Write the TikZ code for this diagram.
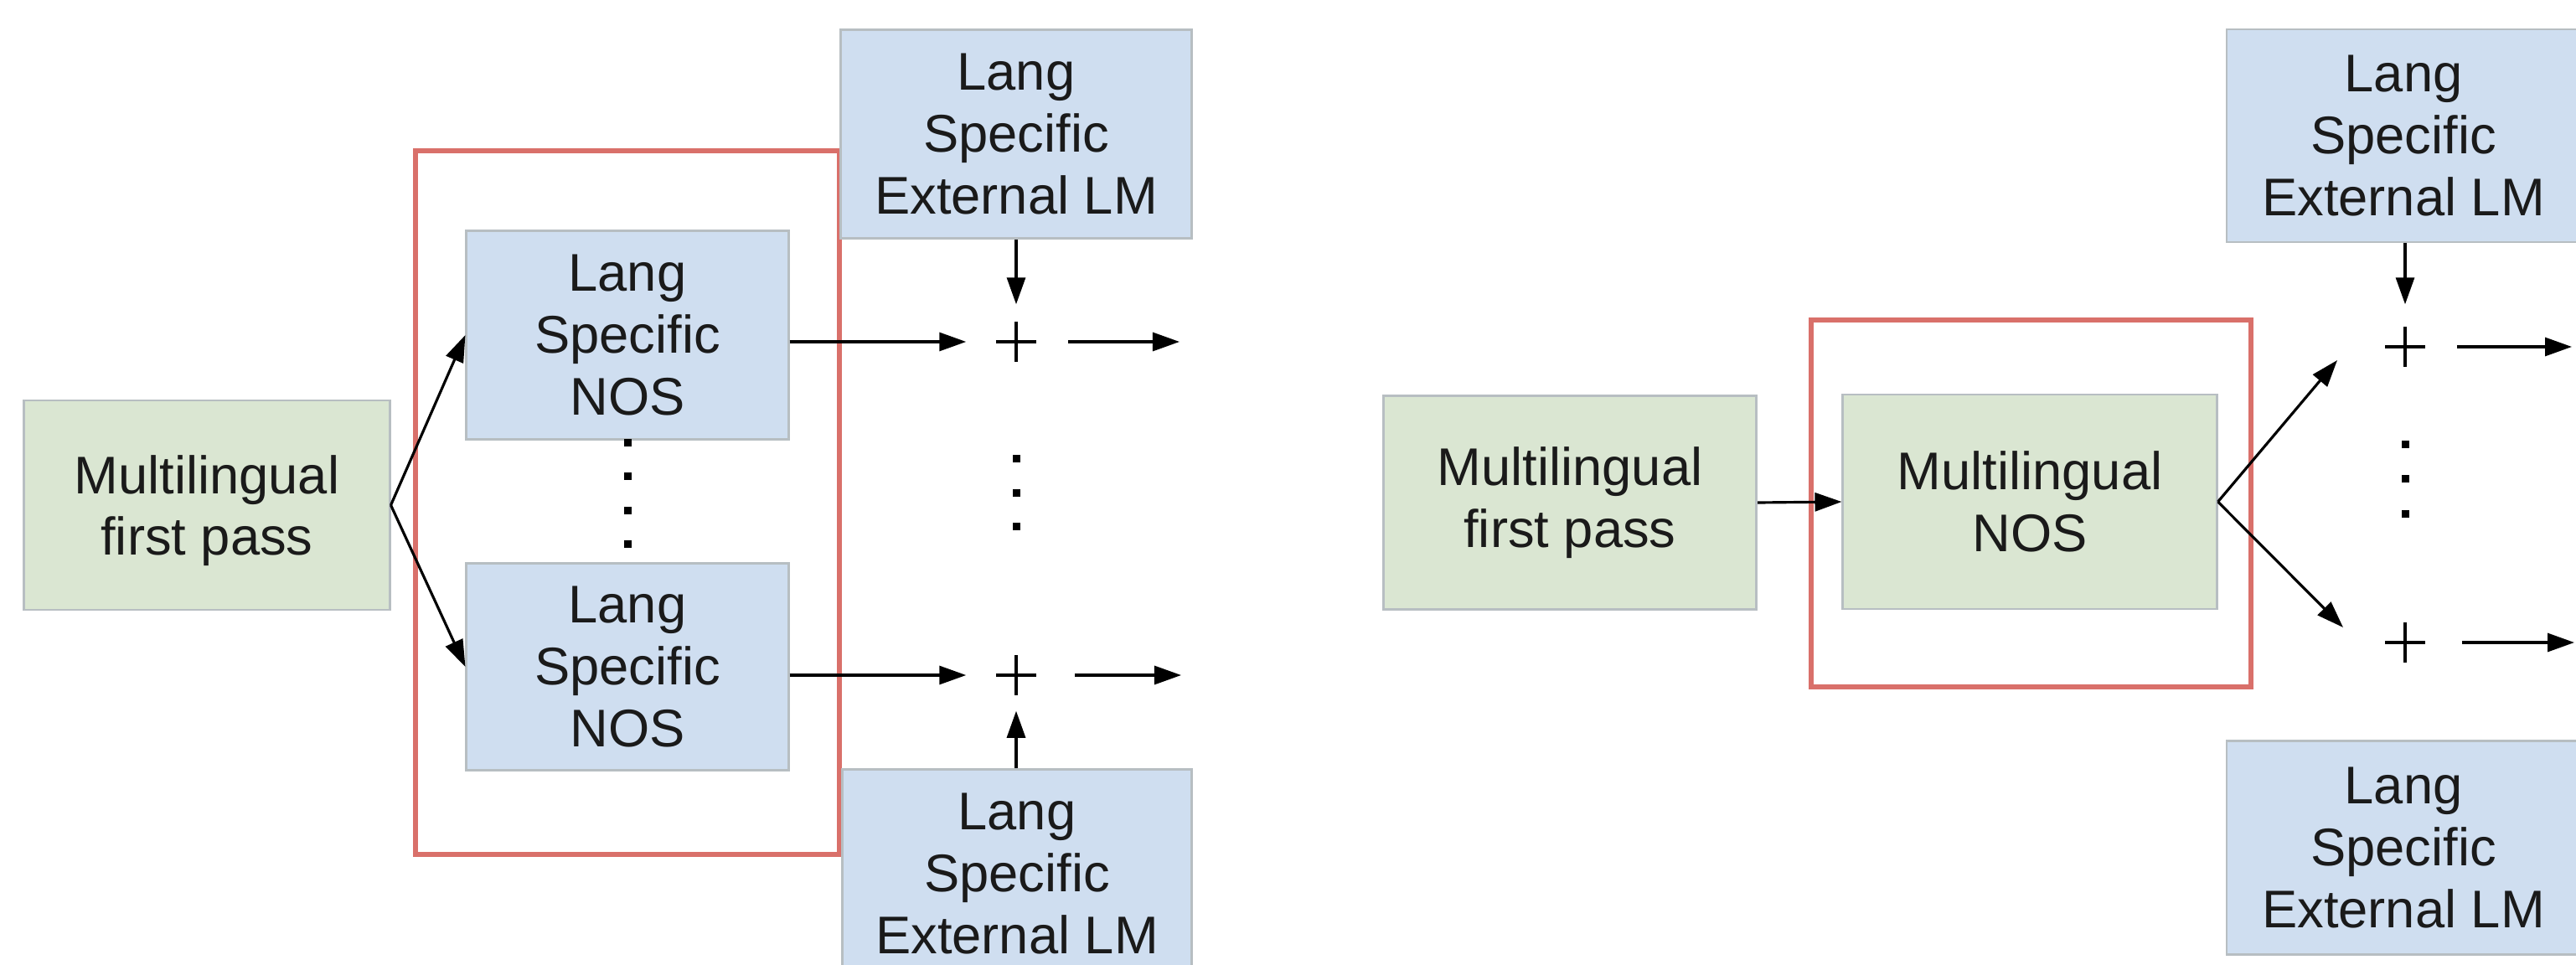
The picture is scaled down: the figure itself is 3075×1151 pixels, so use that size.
\documentclass[tikz,border=0pt]{standalone}
\usepackage{fontspec}
\setmainfont{Liberation Sans}
\usetikzlibrary{arrows.meta}
\definecolor{boxgreen}{HTML}{DAE6D2}
\definecolor{boxblue}{HTML}{CFDEF0}
\definecolor{boxborder}{HTML}{B7BEC2}
\definecolor{redframe}{HTML}{D9706A}
\definecolor{txt}{HTML}{1A1A1A}
\begin{document}
\begin{tikzpicture}[x=0.01cm,y=-0.01cm,
  box/.style={draw=boxborder, line width=0.8pt, align=center, inner sep=0pt,
    text=txt, font=\fontsize{18pt}{21pt}\selectfont},
  gbox/.style={box, fill=boxgreen},
  bbox/.style={box, fill=boxblue},
  frame/.style={draw=redframe, line width=1.5pt},
  arr/.style={-{Triangle[length=3.2mm,width=2.2mm]}, line width=0.9pt, black},
  plusnode/.style={minimum size=0.48cm, inner sep=0pt,
    path picture={\draw[line width=0.9pt]
      (path picture bounding box.north) -- (path picture bounding box.south)
      (path picture bounding box.west) -- (path picture bounding box.east);}},
  dot/.style={fill=black}
]
\clip (0,0) rectangle (3075,1151);
\fill[white] (0,0) rectangle (3075,1151);

% ---------- left panel ----------
\draw[frame] (496,180) rectangle (1002,1020);
\node[gbox, minimum width=4.36cm, minimum height=2.50cm, text depth=-0.08cm] (fp1) at (247,603) {Multilingual\\first pass};
\node[bbox, minimum width=3.84cm, minimum height=2.49cm] (nos1) at (749,400) {Lang\\Specific\\NOS};
\node[bbox, minimum width=3.84cm, minimum height=2.47cm] (nos2) at (749,796) {Lang\\Specific\\NOS};
\node[bbox, minimum width=4.19cm, minimum height=2.49cm] (ext1) at (1213,160) {Lang\\Specific\\External LM};
\node[bbox, minimum width=4.16cm, minimum height=2.49cm] (ext2) at (1214,1043) {Lang\\Specific\\External LM};
\node[plusnode] (p1) at (1213,408) {};
\node[plusnode] (p2) at (1213,806) {};
\coordinate (o1) at (1408,408);
\coordinate (o2) at (1410,806);

\foreach \yy in {528,568,609,649} \fill[dot] (745,\yy-4) rectangle (754,\yy+5);
\foreach \yy in {547,588,628} \fill[dot] (1209,\yy-4) rectangle (1218,\yy+5);

\draw[arr] (fp1.east) -- (nos1.west);
\draw[arr] (fp1.east) -- (nos2.west);
\draw[arr, shorten >=0.35cm] (nos1.east |- p1) -- (p1.west);
\draw[arr, shorten >=0.35cm] (nos2.east |- p2) -- (p2.west);
\draw[arr, shorten <=0.37cm] (p1.east) -- (o1);
\draw[arr, shorten <=0.45cm] (p2.east) -- (o2);
\draw[arr, shorten >=0.2cm] (ext1.south -| p1) -- (p1.north);
\draw[arr, shorten >=0.18cm] (ext2.north -| p2) -- (p2.south);

% ---------- right panel ----------
\draw[frame] (2162,382) rectangle (2687,820);
\node[gbox, minimum width=4.45cm, minimum height=2.55cm] (fp2) at (1874,600) {Multilingual\\first pass};
\node[gbox, minimum width=4.46cm, minimum height=2.56cm] (nos3) at (2423,599) {Multilingual\\NOS};
\node[bbox, minimum width=4.22cm, minimum height=2.54cm] (ext3) at (2869,162) {Lang\\Specific\\External LM};
\node[bbox, minimum width=4.22cm, minimum height=2.55cm] (ext4) at (2869,1012) {Lang\\Specific\\External LM};
\node[plusnode] (p3) at (2871,414) {};
\node[plusnode] (p4) at (2871,767) {};
\coordinate (c1) at (2790,430);
\coordinate (c2) at (2797,749);
\coordinate (o3) at (3070,414);
\coordinate (o4) at (3073,767);

\foreach \yy in {530,571,613} \fill[dot] (2867,\yy-4) rectangle (2876,\yy+5);

\draw[arr] (fp2.east) -- (nos3.west);
\draw[arr] (nos3.east) -- (c1);
\draw[arr] (nos3.east) -- (c2);
\draw[arr, shorten <=0.37cm] (p3.east) -- (o3);
\draw[arr, shorten <=0.43cm] (p4.east) -- (o4);
\draw[arr, shorten >=0.26cm] (ext3.south -| p3) -- (p3.north);
\end{tikzpicture}
\end{document}
